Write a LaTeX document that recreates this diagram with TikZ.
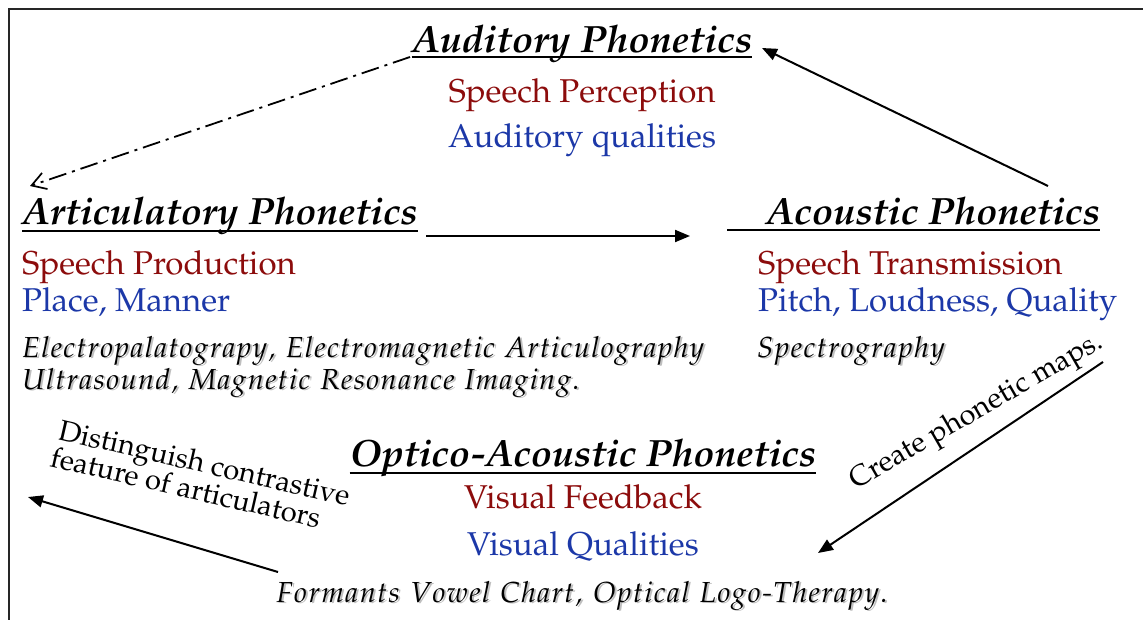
\documentclass[tikz,border=0pt]{standalone}
\usepackage[T1]{fontenc}
\usepackage{mathpazo}
\usetikzlibrary{arrows.meta}
\definecolor{deepred}{RGB}{140,12,12}
\definecolor{deepblue}{RGB}{28,56,168}
% letter-spaced text: every token is followed by a fixed kern (words joined by ~)
\makeatletter
\newcommand\tracked[2]{\@tfor\trk@tok:=#2\do{\trk@tok\kern#1}}
\makeatother
\newcommand\toolA{\tracked{1.4pt}{Electropalatograpy,~Electromagnetic~Articulography}}
\newcommand\toolB{\tracked{1.4pt}{Ultrasound,~Magnetic~Resonance~Imaging.}}
\newcommand\toolC{\tracked{1.5pt}{Spectrography}}
\newcommand\toolD{\tracked{1.5pt}{Formants~Vowel~Chart,~Optical~Logo-Therapy.}}
\begin{document}
\begin{tikzpicture}[x=1pt,y=-1pt,
  headtext/.style={inner sep=0pt, font=\fontsize{38}{42}\selectfont\bfseries\itshape},
  redtext/.style={inner sep=0pt, text=deepred, font=\fontsize{33}{37}\selectfont},
  bluetext/.style={inner sep=0pt, text=deepblue, font=\fontsize{33}{37}\selectfont},
  tooltext/.style={inner sep=0pt, font=\fontsize{29}{33}\selectfont\itshape},
  toolshadow/.style={tooltext, text=black!25},
  notetext/.style={inner sep=0pt, font=\fontsize{29}{33}\selectfont},
  rule/.style={line width=1.6pt},
  link/.style={line width=2pt, -{Triangle[length=15pt,width=12pt]}},
  hint/.style={line width=1.8pt, dash pattern=on 18pt off 6pt on 3pt off 6pt,
    -{Straight Barb[length=14pt,width=17pt,line width=1.7pt]}},
  frame/.style={line width=2.5pt, draw=black!85},
]
\useasboundingbox (0,0) rectangle (1143,619);
\clip (0,0) rectangle (1143,619);
% outer frame
\draw[frame] (1160,9) -- (9,9) -- (9,640);

% auditory branch
\node[headtext, anchor=base] (aud) at (582,52) {\scalebox{1.03}[1]{Auditory Phonetics}};
\draw[rule] ([yshift=-5pt]aud.base west) -- ([yshift=-5pt]aud.base east);
\node[redtext, anchor=base] (audr) at (582,102) {Speech Perception};
\node[bluetext, anchor=base] (audb) at (582,147) {Auditory qualities};

% articulatory branch
\node[headtext, anchor=base west] (art) at (22,224) {\scalebox{1.015}[1]{Articulatory Phonetics}};
\draw[rule] ([yshift=-7pt]art.base west) -- ([yshift=-7pt]art.base east);
\node[redtext, anchor=base west] (artr) at (22,274) {Speech Production};
\node[bluetext, anchor=base west] (artb) at (22,311) {Place, Manner};
\node[toolshadow, anchor=base west] (art1sh) at (24,358.5) {\toolA};
\node[tooltext, anchor=base west] (art1) at (22,357) {\toolA};
\node[toolshadow, anchor=base west] (art2sh) at (24,390.5) {\toolB};
\node[tooltext, anchor=base west] (art2) at (22,389) {\toolB};

% acoustic branch
\node[headtext, anchor=base west] (aco) at (766,224) {\scalebox{1.03}[1]{Acoustic Phonetics}};
\draw[rule] ([xshift=-39pt,yshift=-6pt]aco.base west) -- ([yshift=-6pt]aco.base east);
\node[redtext, anchor=base west] (acor) at (758,274) {Speech Transmission};
\node[bluetext, anchor=base west] (acob) at (758,311) {Pitch, Loudness, Quality};
\node[toolshadow, anchor=base west] (aco1sh) at (759,358.5) {\toolC};
\node[tooltext, anchor=base west] (aco1) at (757,357) {\toolC};

% optico-acoustic branch
\node[headtext, anchor=base] (opt) at (583,466) {\scalebox{1.02}[1]{Optico-Acoustic Phonetics}};
\draw[rule] ([yshift=-7pt]opt.base west) -- ([yshift=-7pt]opt.base east);
\node[redtext, anchor=base] (optr) at (583,508) {Visual Feedback};
\node[bluetext, anchor=base] (optb) at (583,555) {Visual Qualities};
\node[toolshadow, anchor=base] (opt1sh) at (585,603.5) {\toolD};
\node[tooltext, anchor=base] (opt1) at (583,602) {\toolD};

% arrow labels
\node[notetext, anchor=base west, rotate=-13] (dist1) at (57,439) {Distinguish contrastive};
\node[notetext, anchor=base west, rotate=-13] (dist2) at (49,466) {feature of articulators};
\node[notetext, anchor=base, rotate=30] (maps) at (980,418) {Create phonetic maps.};

% connector ends
\coordinate (audout) at (410,57);
\coordinate (artin) at (30,186);
\coordinate (acoout) at (1048,186);
\coordinate (audin) at (762,48);
\coordinate (artout) at (426,236);
\coordinate (acoin) at (690,236);
\coordinate (mapsout) at (1103,362);
\coordinate (optin) at (818,553);
\coordinate (optout) at (278,572);
\coordinate (artback) at (28,497);

\draw[hint] (audout) -- (artin);
\draw[link] (acoout) -- (audin);
\draw[link] (artout) -- (acoin);
\draw[link] (mapsout) -- (optin);
\draw[link] (optout) -- (artback);
\end{tikzpicture}
\end{document}
